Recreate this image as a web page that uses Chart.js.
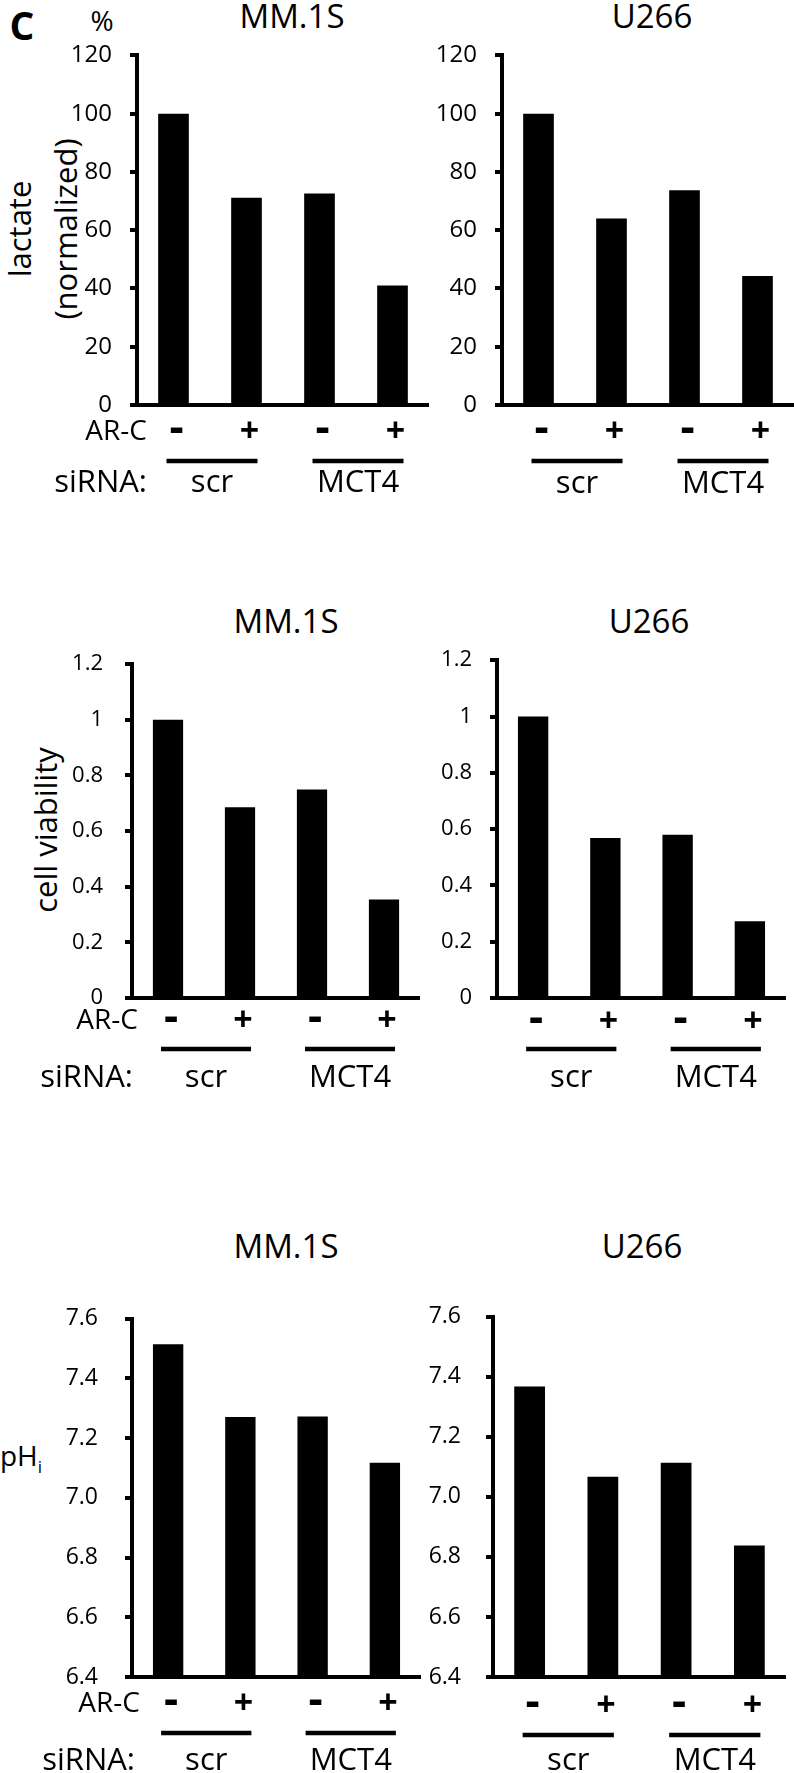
<!DOCTYPE html>
<html>
<head>
<meta charset="utf-8">
<script src="https://cdn.jsdelivr.net/npm/chart.js@4.4.1/dist/chart.umd.min.js"></script>
<style>
  html, body { margin: 0; padding: 0; background: #fff; }
  body { width: 794px; height: 1773px; position: relative; overflow: hidden; font-family: "Open Sans", Lato, sans-serif; color: #000; }
  canvas { position: absolute; }
  .lbl { position: absolute; white-space: nowrap; line-height: 1; transform: translate(-50%, -50%); }
  .rot { transform: translate(-50%, -50%) rotate(-90deg); }
</style>
</head>
<body>

<div class="lbl" style="left:22px;top:24px;font-size:39px;font-weight:bold;">C</div>
<div class="lbl" style="left:102px;top:20px;font-size:28px;">%</div>
<div class="lbl rot" style="left:19px;top:229px;font-size:31px;">lactate</div>
<div class="lbl rot" style="left:65px;top:229px;font-size:31px;">(normalized)</div>
<div class="lbl rot" style="left:45px;top:830px;font-size:31px;">cell viability</div>
<div class="lbl" style="left:21px;top:1458px;font-size:28px;">pH<sub style="font-size:17px;">i</sub></div>

<div class="lbl" style="left:292px;top:15px;font-size:33px;">MM.1S</div>
<div class="lbl" style="left:652px;top:15px;font-size:33px;">U266</div>
<div class="lbl" style="left:286px;top:620px;font-size:33px;">MM.1S</div>
<div class="lbl" style="left:649px;top:620px;font-size:33px;">U266</div>
<div class="lbl" style="left:286px;top:1245px;font-size:33px;">MM.1S</div>
<div class="lbl" style="left:642px;top:1245px;font-size:33px;">U266</div>

<script>
// categories
var arcLabels = ['-', '+', '-', '+'];
var sirnaGroups = ['scr', 'MCT4'];

// lactate (normalized, %)
var lactateMM1S = [100, 71.1, 72.6, 41.0];
var lactateU266 = [100, 64.0, 73.7, 44.3];

// cell viability
var viabilityMM1S = [1.0, 0.686, 0.75, 0.354];
var viabilityU266 = [1.0, 0.568, 0.58, 0.273];

// intracellular pH
var phMM1S = [7.515, 7.271, 7.273, 7.118];
var phU266 = [7.368, 7.067, 7.114, 6.838];

// tick labels
var lactateTicks = ['0', '20', '40', '60', '80', '100', '120'];
var viabilityTicks = ['0', '0.2', '0.4', '0.6', '0.8', '1', '1.2'];
var phTicks = ['6.4', '6.6', '6.8', '7.0', '7.2', '7.4', '7.6'];

var FONT = '"Open Sans"';

// draws the AR-C +/- row, the siRNA bars and names under each plot
var treatmentRows = {
  id: 'treatmentRows',
  afterDraw: function(chart) {
    var o = chart.options.plugins.treatmentRows;
    var ctx = chart.ctx, xs = chart.scales.x, area = chart.chartArea;
    ctx.save();
    ctx.fillStyle = '#000';
    ctx.strokeStyle = '#000';
    ctx.textBaseline = 'middle';
    ctx.textAlign = 'center';

    arcLabels.forEach(function(s, i) {
      // the minus signs are drawn a bit bigger so they read as in the figure
      ctx.font = (s === '-' ? 'bold 44px ' : 'bold 34px ') + FONT;
      var dy = s === '-' ? -3 : 0;
      ctx.fillText(s, xs.getPixelForValue(i) + 3, area.bottom + o.arcDy + dy);
    });

    ctx.lineWidth = 4.5;
    ctx.font = '31px ' + FONT;
    sirnaGroups.forEach(function(g, k) {
      var x1 = xs.getPixelForValue(2 * k) - 7;
      var x2 = xs.getPixelForValue(2 * k + 1) + 11;
      ctx.beginPath();
      ctx.moveTo(x1, area.bottom + o.lineDy);
      ctx.lineTo(x2, area.bottom + o.lineDy);
      ctx.stroke();
      ctx.fillText(g, (x1 + x2) / 2, area.bottom + o.siDy);
    });

    if (o.names) {
      ctx.textAlign = 'right';
      ctx.font = '28px ' + FONT;
      ctx.fillText('AR-C', area.left + o.nameDx, area.bottom + o.arcDy);
      ctx.font = '31px ' + FONT;
      ctx.fillText('siRNA:', area.left + o.siNameDx, area.bottom + o.siDy);
    }
    ctx.restore();
  }
};

var panels = [
  {data: lactateMM1S, ticks: lactateTicks, L: 137, R: 429, T: 43, B: 405, yw: 100, tickPad: 18, tickSize: 24,
   arcDy: 27, lineDy: 56, siDy: 78, names: true, nameDx: 10, siNameDx: 10},
  {data: lactateU266, ticks: lactateTicks, L: 502, R: 794, T: 43, B: 405, yw: 70, tickPad: 18, tickSize: 24,
   arcDy: 27, lineDy: 56, siDy: 79},
  {data: viabilityMM1S, ticks: viabilityTicks, L: 132, R: 420, T: 649, B: 998, yw: 100, tickPad: 22, tickSize: 22,
   arcDy: 23, lineDy: 51, siDy: 80, names: true, nameDx: 6, siNameDx: 1},
  {data: viabilityU266, ticks: viabilityTicks, L: 497, R: 786, T: 649, B: 998, yw: 70, tickPad: 18, tickSize: 22,
   arcDy: 24, lineDy: 51, siDy: 80},
  {data: phMM1S, ticks: phTicks, L: 132, R: 421, T: 1298, B: 1677, yw: 100, tickPad: 27, tickSize: 23,
   arcDy: 27, lineDy: 56, siDy: 84, names: true, nameDx: 8, siNameDx: 3},
  {data: phU266, ticks: phTicks, L: 493, R: 786, T: 1298, B: 1677, yw: 70, tickPad: 25, tickSize: 23,
   arcDy: 29, lineDy: 58, siDy: 84}
];

function makePanel(p) {
  var padTop = 20, xh = 100;
  var canvas = document.createElement('canvas');
  canvas.width = p.yw + (p.R - p.L);
  canvas.height = padTop + (p.B - p.T) + xh;
  canvas.style.left = (p.L - p.yw) + 'px';
  canvas.style.top = (p.T - padTop) + 'px';
  canvas.style.width = canvas.width + 'px';
  canvas.style.height = canvas.height + 'px';
  document.body.appendChild(canvas);

  var min = parseFloat(p.ticks[0]);
  var max = parseFloat(p.ticks[p.ticks.length - 1]);
  var step = (max - min) / (p.ticks.length - 1);

  new Chart(canvas, {
    type: 'bar',
    data: {
      labels: arcLabels,
      datasets: [{
        data: p.data,
        backgroundColor: '#000',
        borderWidth: 0,
        barPercentage: 0.42,
        categoryPercentage: 1.0
      }]
    },
    options: {
      responsive: false,
      animation: false,
      devicePixelRatio: 1,
      layout: { padding: { top: padTop, left: 0, right: 0, bottom: 0 } },
      plugins: {
        legend: { display: false },
        tooltip: { enabled: false },
        treatmentRows: p
      },
      scales: {
        x: {
          grid: { display: false },
          border: { display: true, width: 4, color: '#000' },
          ticks: { display: false },
          afterFit: function(s) { s.height = xh; }
        },
        y: {
          min: min,
          max: max,
          grid: { display: true, drawOnChartArea: false, drawTicks: true, tickLength: 7, lineWidth: 4, color: '#000' },
          border: { display: true, width: 4, color: '#000' },
          ticks: {
            stepSize: step,
            padding: p.tickPad,
            color: '#000',
            font: { family: 'Open Sans', size: p.tickSize },
            callback: function(value) { return p.ticks[Math.round((value - min) / step)]; }
          },
          afterFit: function(s) { s.width = p.yw; }
        }
      }
    },
    plugins: [treatmentRows]
  });
}

panels.forEach(makePanel);
</script>
</body>
</html>
